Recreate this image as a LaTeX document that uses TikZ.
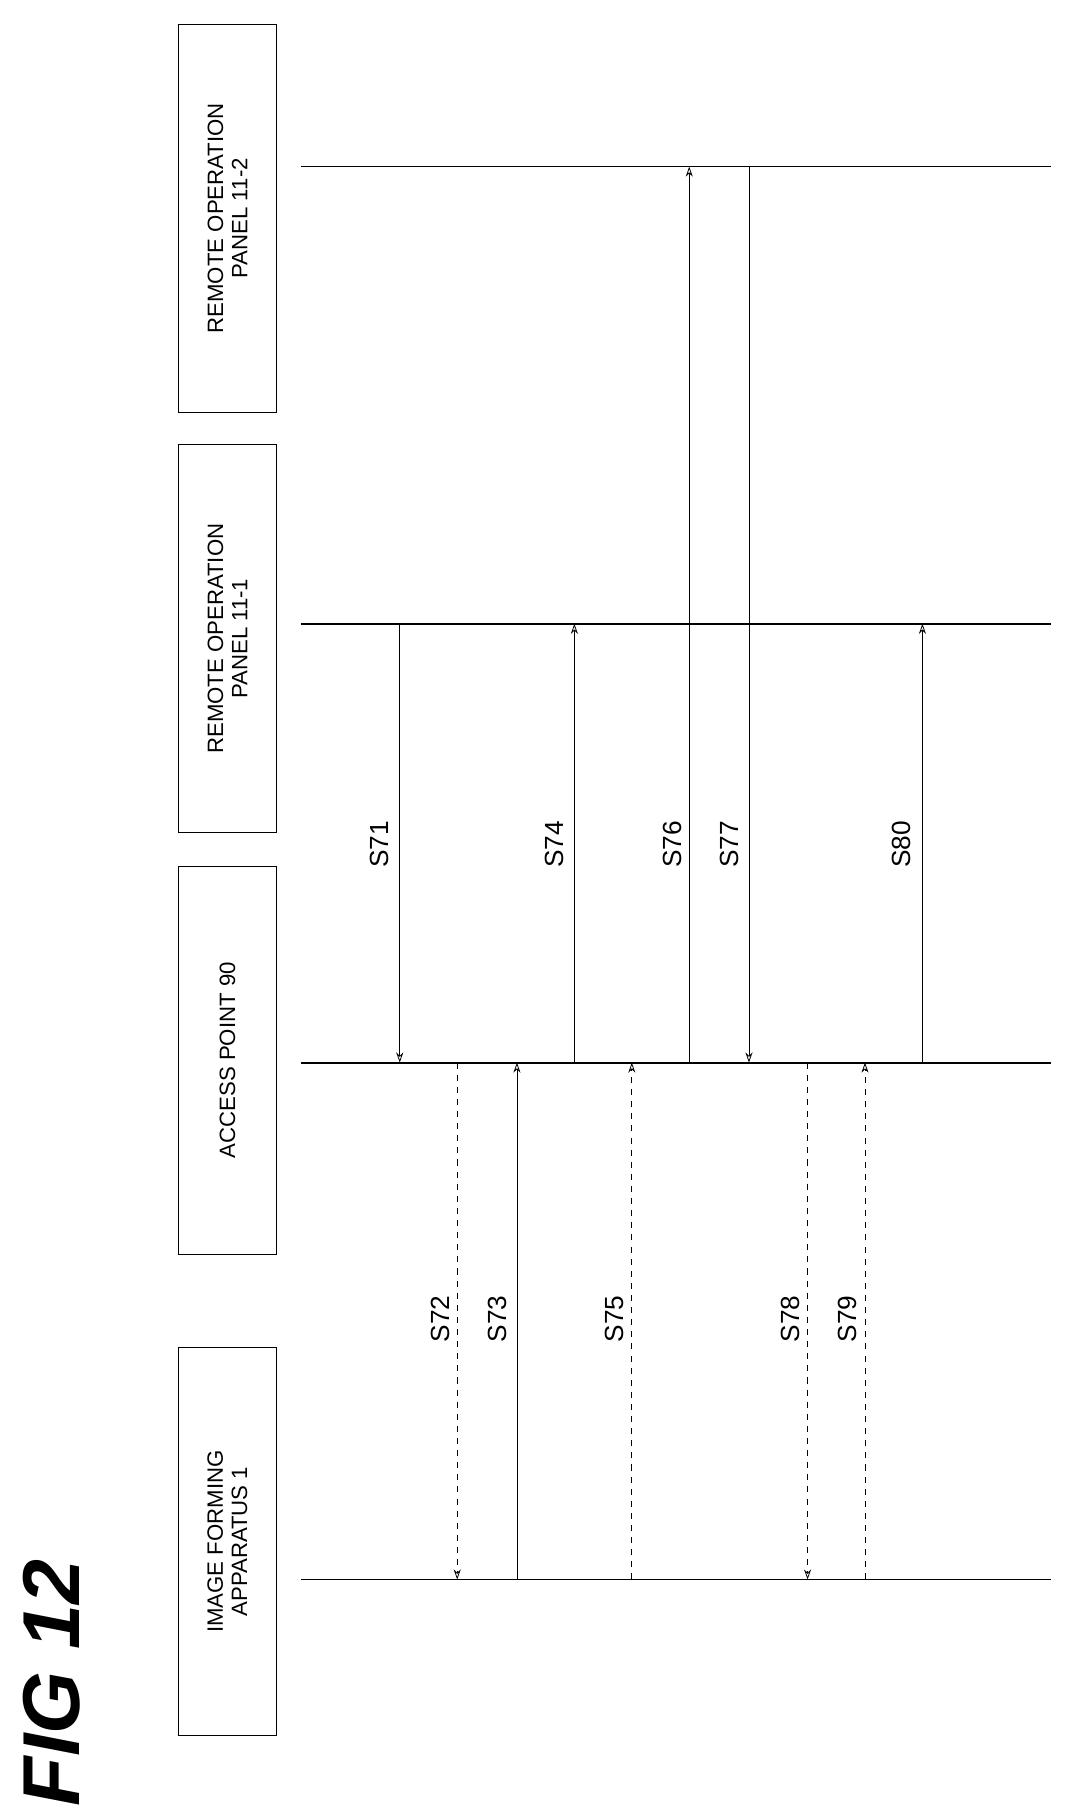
\documentclass[tikz,border=0pt]{standalone}
\usepackage{fontspec}
\setmainfont{Liberation Sans}
\usetikzlibrary{arrows.meta}
\begin{document}
\begin{tikzpicture}[x=0.02cm,y=-0.02cm,
    hdr/.style={draw,thin,rotate=90,minimum width=\w*0.02cm,minimum height=1.7cm,align=center,font=\fontsize{11}{12}\selectfont},
    life/.style={line width=0.9pt},
    msg/.style={thin,-{Stealth[open,length=5pt,width=3.5pt]}},
    lbl/.style={rotate=90,font=\fontsize{13}{14}\selectfont}]
    
    \def\w{338} %height of header boxes
    \useasboundingbox (0,0) rectangle (940,1580);
    
    %HEADERS
    \node[hdr] (ifa) at (198,1342) {IMAGE FORMING\\APPARATUS 1};
    \node[hdr] (ap)  at (198,923)  {ACCESS POINT 90};
    \node[hdr] (p1)  at (198,556)  {REMOTE OPERATION\\PANEL 11-1};
    \node[hdr] (p2)  at (198,190)  {REMOTE OPERATION\\PANEL 11-2};
    \node[rotate=90,font=\fontsize{40}{40}\selectfont\bfseries\itshape] (fig) at (45,1465) {FIG 12};
    
    %LIFELINES
    \foreach \n/\y in {ifa/1375,ap/925,p1/543,p2/145}{
        \coordinate (\n-l) at (262,\y); \coordinate (\n-r) at (915,\y);
        \draw[life] (\n-l)--(\n-r);
    }
    
    %MESSAGES: name/x/from/to/dash/label side
    \foreach \s/\x/\a/\b/\st in {71/348/p1/ap/solid,72/398/ap/ifa/dashed,73/450/ifa/ap/solid,
        74/500/ap/p1/solid,75/550/ifa/ap/dashed,76/600/ap/p2/solid,77/652/p2/ap/solid,
        78/703/ap/ifa/dashed,79/753/ifa/ap/dashed,80/803/ap/p1/solid}{
        \coordinate (s\s-a) at (\x,0 |- \a-l);
        \coordinate (s\s-b) at (\x,0 |- \b-l);
        \draw[msg,\st] (s\s-a)--(s\s-b);
    }
    
    %LABELS
    \foreach \s/\x in {71/330,74/483,76/585,77/635,80/785}
        \node[lbl] (t\s) at (\x,735) {S\s};
    \foreach \s/\x in {72/383,73/433,75/535,78/688,79/738}
        \node[lbl] (t\s) at (\x,1148) {S\s};
\end{tikzpicture}
\end{document}
